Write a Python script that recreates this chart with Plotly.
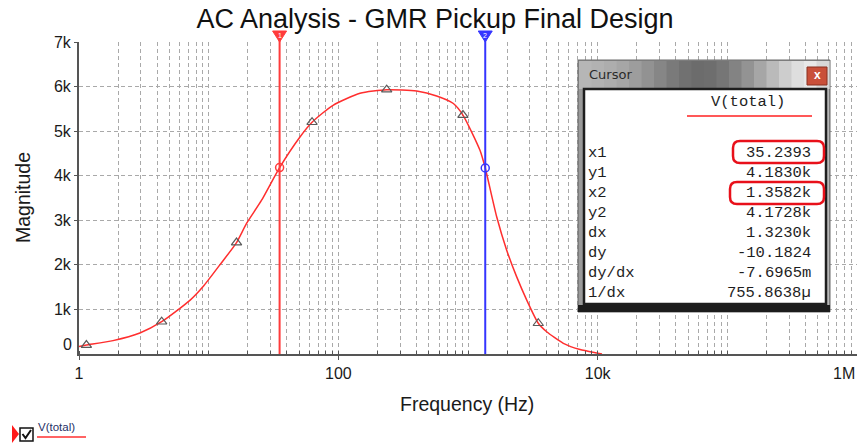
import math
import plotly.graph_objects as go

# ---------------- data ----------------
freq = [1, 1.14, 1.83, 2.95, 4.34, 7.2, 9.1, 12.2, 16.4, 19.6, 25.6, 35.24, 50.6, 62.7,
        91, 147, 236, 402, 573, 771, 914, 1237, 1358, 1664, 1988, 2375, 2838, 3483,
        4044, 5437, 7310, 10000, 10800]
mag = [170, 200, 300, 470, 724, 1210, 1520, 2000, 2500, 2930, 3450, 4183, 4870, 5200,
       5580, 5850, 5930, 5900, 5790, 5620, 5360, 4570, 4173, 3080, 2330, 1730, 1210, 690,
       500, 240, 100, 20, 0]
tri_freq = [1.14, 4.34, 16.4, 62.7, 236, 914, 3483]
tri_mag = [200, 724, 2500, 5200, 5930, 5360, 690]

cursor_x = [35.2393, 1358.2]
cursor_y = [4183.0, 4172.8]
cursor_names = ["1", "2"]
cursor_colors = ["#ff3b3b", "#3535ff"]

x_tickvals = [1, 100, 1e4]
x_ticktext = ["1", "100", "10k"]
x_last_label = "1M"
y_tickvals = [1000, 2000, 3000, 4000, 5000, 6000, 7000]
y_ticktext = ["1k", "2k", "3k", "4k", "5k", "6k", "7k"]
minor_vals = [m * 10 ** k for k in range(6) for m in range(1, 10)] + [1e6]

table_labels = ["x1", "y1", "x2", "y2", "dx", "dy", "dy/dx", "1/dx"]
table_values = ["35.2393", "4.1830k", "1.3582k", "4.1728k", "1.3230k", "-10.1824",
                "-7.6965m", "755.8638\u00b5"]
series_name = "V(total)"

# ---------------- layout helpers ----------------
W, H = 857, 444
PL, PR, PT, PB = 79, 857, 42, 354


def px(x):
    return (x - PL) / (PR - PL)


def py(y):
    return (PB - y) / (PB - PT)


FONT = "Liberation Sans, Arial, sans-serif"
MONO = "Liberation Mono, Courier New, monospace"
GRID = "#a9a9a9"

fig = go.Figure()

# curve
fig.add_trace(go.Scatter(x=freq, y=mag, mode="lines",
                         line=dict(color="#ff2e2e", width=1.5, shape="spline", smoothing=0.6),
                         hoverinfo="skip"))
fig.add_trace(go.Scatter(x=tri_freq, y=tri_mag, mode="markers",
                         marker=dict(symbol="triangle-up-open", size=9,
                                     line=dict(color="#5a5a5a", width=1.2), color="#5a5a5a")))

shapes = []
annotations = []
# cursor lines + top flags
for cx, nm, col in zip(cursor_x, cursor_names, cursor_colors):
    shapes.append(dict(type="line", xref="x", yref="paper", x0=cx, x1=cx,
                       y0=0, y1=py(37), line=dict(color=col, width=2), layer="above"))
    shapes.append(dict(type="path", xref="x", yref="paper", xsizemode="pixel",
                       ysizemode="pixel", xanchor=cx, yanchor=py(36),
                       path="M -7,5 L 7,5 L 0,-6 Z", fillcolor=col,
                       line=dict(color=col, width=1), layer="above"))
    annotations.append(dict(text=nm, xref="x", yref="paper", x=math.log10(cx), y=py(35),
                            xanchor="center", yanchor="middle", showarrow=False,
                            font=dict(family=FONT, size=7, color="white")))

# cursor intersection circles
for cx, cy, col in zip(cursor_x, cursor_y, cursor_colors):
    fig.add_trace(go.Scatter(x=[cx], y=[cy], mode="markers",
                             marker=dict(symbol="circle-open", size=8, color=col,
                                         line=dict(color=col, width=1.5))))

# ---------------- cursor window ----------------
wl, wr, wt, wb = 578, 830, 60, 312
shapes.append(dict(type="rect", xref="paper", yref="paper", x0=px(wl), x1=px(wr),
                   y0=py(wb), y1=py(wt), fillcolor="#8e8e8e",
                   line=dict(color="#6a6a6a", width=1), layer="above"))
# title-bar gradient strips
grad = ["#b6b6b6", "#b2b2b2", "#adadad", "#a6a6a6", "#9d9d9d", "#929292", "#868686",
        "#7a7a7a", "#717171", "#6c6c6c", "#6e6e6e", "#767676", "#838383", "#939393",
        "#a6a6a6", "#bababa", "#cdcdcd", "#dedede", "#e8e8e8", "#d8d8d8"]
n = len(grad)
sx = (wr - 1 - (wl + 1)) / n
for i, c in enumerate(grad):
    shapes.append(dict(type="rect", xref="paper", yref="paper",
                       x0=px(wl + 1 + i * sx), x1=px(wl + 1 + (i + 1) * sx + 0.6),
                       y0=py(89), y1=py(wt + 1), fillcolor=c, line=dict(width=0),
                       layer="above"))
# side frames
shapes.append(dict(type="rect", xref="paper", yref="paper", x0=px(wl + 1), x1=px(584),
                   y0=py(305), y1=py(89), fillcolor="#9a9a9a", line=dict(width=0), layer="above"))
shapes.append(dict(type="rect", xref="paper", yref="paper", x0=px(826), x1=px(wr - 1),
                   y0=py(305), y1=py(89), fillcolor="#b8b8b8", line=dict(width=0), layer="above"))
# content area
shapes.append(dict(type="rect", xref="paper", yref="paper", x0=px(584), x1=px(826),
                   y0=py(304), y1=py(89), fillcolor="white",
                   line=dict(color="#1e1e1e", width=2.5), layer="above"))
# bottom dark band
shapes.append(dict(type="rect", xref="paper", yref="paper", x0=px(wl), x1=px(wr),
                   y0=py(wb), y1=py(305), fillcolor="#1c1c1c", line=dict(width=0), layer="above"))
# close button
shapes.append(dict(type="rect", xref="paper", yref="paper", x0=px(807), x1=px(827),
                   y0=py(85), y1=py(67), fillcolor="#c9503a",
                   line=dict(color="#8a3020", width=1), layer="above"))
# underline under series name in table
shapes.append(dict(type="line", xref="paper", yref="paper", x0=px(687), x1=px(812),
                   y0=py(116), y1=py(116), line=dict(color="#ff2020", width=1.5), layer="above"))


def rounded(x0, y0, x1, y1, r=5):
    rx = r / (PR - PL)
    ry = r / (PB - PT)
    X0, X1 = px(x0), px(x1)
    Y0, Y1 = py(y1), py(y0)
    return (f"M {X0+rx},{Y1} L {X1-rx},{Y1} Q {X1},{Y1} {X1},{Y1-ry} "
            f"L {X1},{Y0+ry} Q {X1},{Y0} {X1-rx},{Y0} L {X0+rx},{Y0} "
            f"Q {X0},{Y0} {X0},{Y0+ry} L {X0},{Y1-ry} Q {X0},{Y1} {X0+rx},{Y1} Z")


shapes.append(dict(type="path", xref="paper", yref="paper", path=rounded(733, 141, 824, 163, 7),
                   line=dict(color="#e8101a", width=2.5), layer="above"))
shapes.append(dict(type="path", xref="paper", yref="paper", path=rounded(730, 182, 824, 204, 7),
                   line=dict(color="#e8101a", width=2.5), layer="above"))

# ---------------- bottom legend ----------------
shapes.append(dict(type="path", xref="paper", yref="paper",
                   path=f"M {px(12)},{py(425)} L {px(19)},{py(434)} L {px(12)},{py(443)} Z",
                   fillcolor="#ff1a1a", line=dict(width=0), layer="above"))
shapes.append(dict(type="rect", xref="paper", yref="paper", x0=px(20), x1=px(33),
                   y0=py(441), y1=py(428), fillcolor="white",
                   line=dict(color="#111111", width=1.5), layer="above"))
shapes.append(dict(type="path", xref="paper", yref="paper",
                   path=f"M {px(22.5)},{py(434)} L {px(25.5)},{py(438)} L {px(31)},{py(430)}",
                   line=dict(color="#111111", width=2), layer="above"))
shapes.append(dict(type="line", xref="paper", yref="paper", x0=px(37), x1=px(86),
                   y0=py(437), y1=py(437), line=dict(color="#ff3030", width=1.5), layer="above"))

# window title and close glyph
annotations.append(dict(text="Cursor", xref="paper", yref="paper", x=px(587), y=py(75),
                        xanchor="left", yanchor="middle", showarrow=False,
                        font=dict(family="DejaVu Sans, sans-serif", size=13, color="#2a2a2a")))
annotations.append(dict(text="<b>x</b>", xref="paper", yref="paper", x=px(817), y=py(75.5),
                        xanchor="center", yanchor="middle", showarrow=False,
                        font=dict(family=FONT, size=12, color="white")))
annotations.append(dict(text=series_name, xref="paper", yref="paper", x=px(748), y=py(102),
                        xanchor="center", yanchor="middle", showarrow=False,
                        font=dict(family=MONO, size=15.5, color="#1e1e1e")))
row_y0, row_dy = 152.5, 20.1
for i, (lab, val) in enumerate(zip(table_labels, table_values)):
    yy = row_y0 + i * row_dy
    annotations.append(dict(text=lab, xref="paper", yref="paper", x=px(586), y=py(yy),
                            xanchor="left", yanchor="middle", showarrow=False,
                            font=dict(family=MONO, size=15.5, color="#1e1e1e")))
    annotations.append(dict(text=val, xref="paper", yref="paper", x=px(813), y=py(yy),
                            xanchor="right", yanchor="middle", showarrow=False,
                            font=dict(family=MONO, size=15.5, color="#1e1e1e")))

# legend text
annotations.append(dict(text=series_name, xref="paper", yref="paper", x=px(36), y=py(426.5),
                        xanchor="left", yanchor="middle", showarrow=False,
                        font=dict(family=FONT, size=11.5, color="#1f2f66")))
# y "0" label (drawn slightly raised as in the original)
annotations.append(dict(text="0", xref="paper", yref="y", x=0, y=0, xanchor="right",
                        yanchor="middle", xshift=-5, yshift=10, showarrow=False,
                        font=dict(family=FONT, size=16, color="#1a1a1a")))
# last x label
annotations.append(dict(text=x_last_label, xref="paper", yref="paper", x=1, y=py(373),
                        xanchor="right", yanchor="middle", showarrow=False,
                        font=dict(family=FONT, size=16, color="#1a1a1a")))
# axis titles
annotations.append(dict(text="Magnitude", xref="paper", yref="paper", x=px(23), y=py(198),
                        xanchor="center", yanchor="middle", textangle=-90, showarrow=False,
                        font=dict(family=FONT, size=19.5, color="#1a1a1a")))
annotations.append(dict(text="Frequency (Hz)", xref="paper", yref="paper", x=px(467), y=py(404),
                        xanchor="center", yanchor="middle", showarrow=False,
                        font=dict(family=FONT, size=19.5, color="#1a1a1a")))

fig.update_layout(
    width=W, height=H,
    margin=dict(l=PL, r=W - PR, t=PT, b=H - PB, pad=0),
    plot_bgcolor="white", paper_bgcolor="white",
    showlegend=False,
    title=dict(text="AC Analysis - GMR Pickup Final Design", x=435 / W, xanchor="center",
               y=1 - 19 / H, yanchor="middle", xref="container", yref="container",
               font=dict(family=FONT, size=27, color="#111111")),
    shapes=shapes,
    annotations=annotations,
)
fig.update_xaxes(type="log", range=[0, 6], tickvals=x_tickvals, ticktext=x_ticktext,
                 automargin=False,
                 showgrid=True, gridcolor=GRID, griddash="4px,3px", gridwidth=1,
                 showline=True, linecolor="#555555", linewidth=2,
                 ticks="outside", ticklen=4, tickcolor="#555555",
                 tickfont=dict(family=FONT, size=16, color="#1a1a1a"),
                 zeroline=False,
                 minor=dict(tickvals=minor_vals, ticks="inside", ticklen=3, tickcolor="#555555",
                            showgrid=True, gridcolor=GRID, griddash="4px,3px", gridwidth=1))
fig.update_yaxes(range=[0, 7000], tickvals=y_tickvals, ticktext=y_ticktext,
                 automargin=False,
                 showgrid=True, gridcolor=GRID, griddash="4px,3px", gridwidth=1,
                 showline=True, linecolor="#555555", linewidth=2,
                 ticks="outside", ticklen=3, tickcolor="#555555",
                 tickfont=dict(family=FONT, size=16, color="#1a1a1a"),
                 zeroline=False)

fig.write_html("out.html", config={"displayModeBar": False},
               post_script="document.body.style.margin='0px';")
